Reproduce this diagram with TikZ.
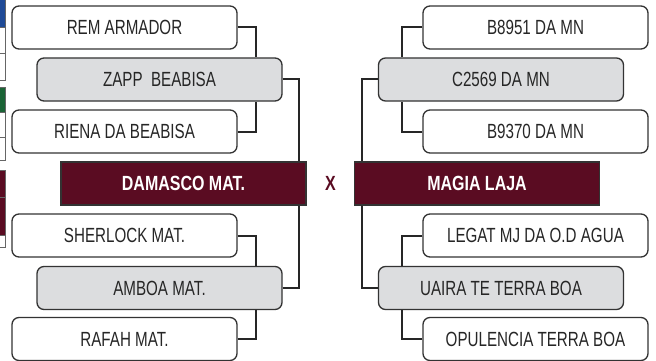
\documentclass[tikz,border=0pt]{standalone}
\usepackage{fontspec}
\setmainfont[FakeStretch=0.74,BoldFeatures={FakeStretch=0.78}]{Liberation Sans}
\usepackage{xcolor}
\usetikzlibrary{positioning,calc}
\definecolor{wine}{HTML}{5A0C22}
\definecolor{boxgray}{HTML}{DCDDDF}
\definecolor{tabblue}{HTML}{1F4A96}
\definecolor{tabgreen}{HTML}{1A6335}
\tikzset{
team/.style={
draw=black!80,
line width=1.3pt,
rounded corners=7pt,
minimum width=225pt,
minimum height=43pt,
align=center,
fill=white,
text=black!85,
font=\fontsize{20.5}{24}\selectfont
},
semi/.style={
team,
minimum width=245pt,
fill=boxgray
},
final/.style={
draw=black!80,
line width=1.3pt,
minimum width=245pt,
minimum height=43pt,
fill=wine,
text=white,
font=\fontsize{20.5}{24}\selectfont\bfseries
},
link/.style={
draw=black!85,
line width=2pt
},
cell/.style={
draw=black!60,
line width=0.8pt
}
}
\begin{document}
\begin{tikzpicture}[x=1pt,y=-1pt]
\useasboundingbox (0,0) rectangle (656,361);

% table cut at the left edge
\filldraw[cell,fill=tabblue] (-10,-2) rectangle (5,27);
\draw[cell] (-10,27) rectangle (5,53);
\draw[cell] (-10,53) rectangle (5,80);
\filldraw[cell,fill=tabgreen] (-10,87) rectangle (5,112);
\draw[cell] (-10,112) rectangle (5,137);
\draw[cell] (-10,137) rectangle (5,160);
\filldraw[cell,fill=wine] (-10,170) rectangle (5,197);
\filldraw[cell,fill=wine] (-10,197) rectangle (5,235);
\draw[cell] (-10,235) rectangle (5,247);

% left side
\node[team](rem) at (124.5,27.5){REM ARMADOR};
\node[semi](zapp) at (159.5,79.5){ZAPP\ \ BEABISA};
\node[team](riena) at (124.5,131.5){RIENA DA BEABISA};
\node[final](dam) at (183.5,183.5){DAMASCO MAT.};
\node[team](sher) at (124.5,235.5){SHERLOCK MAT.};
\node[semi](amboa) at (159.5,288){AMBOA MAT.};
\node[team](rafah) at (124.5,339){RAFAH MAT.};

% right side
\node[team](bA) at (535.5,27.5){B8951 DA MN};
\node[semi](cA) at (501,79.5){C2569 DA MN};
\node[team](bB) at (535.5,131.5){B9370 DA MN};
\node[final](magia) at (477,183.5){MAGIA LAJA};
\node[team](legat) at (535.5,235.5){LEGAT MJ DA O.D AGUA};
\node[semi](uaira) at (501,288){UAIRA TE TERRA BOA};
\node[team](opul) at (535.5,339){OPULENCIA TERRA BOA};

\node[text=wine,font=\fontsize{20.5}{24}\selectfont\bfseries](vs) at (330.5,183.5){X};

\foreach \a/\b in {rem/north,riena/south}
\draw[link](\a.east) -| ([xshift=-27pt]zapp.\b\space east);
\foreach \a/\b in {sher/north,rafah/south}
\draw[link](\a.east) -| ([xshift=-27pt]amboa.\b\space east);
\foreach \a/\b in {bA/north,bB/south}
\draw[link](\a.west) -| ([xshift=24pt]cA.\b\space west);
\foreach \a/\b in {legat/north,opul/south}
\draw[link](\a.west) -| ([xshift=24pt]uaira.\b\space west);
\draw[link](zapp.east) -| ([xshift=-8pt]dam.north east);
\draw[link](amboa.east) -| ([xshift=-8pt]dam.south east);
\draw[link](cA.west) -| ([xshift=8pt]magia.north west);
\draw[link](uaira.west) -| ([xshift=8pt]magia.south west);
\end{tikzpicture}
\end{document}
